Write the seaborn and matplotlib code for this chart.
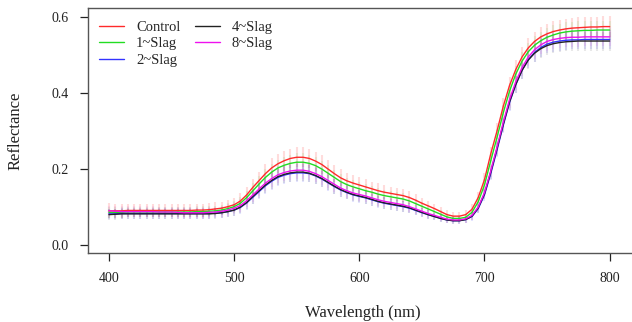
import matplotlib
matplotlib.use('Agg')
import matplotlib.pyplot as plt
import pandas as pd
import seaborn as sns

# wavelengths sampled every 5 nm
wavelength = list(range(400, 801, 5))

treatments = ['Control', '1~Slag', '2~Slag', '4~Slag', '8~Slag']

control = [0.090, 0.090, 0.090, 0.091, 0.091, 0.091, 0.091, 0.091, 0.091, 0.091,
           0.091, 0.091, 0.091, 0.091, 0.092, 0.092, 0.093, 0.095, 0.097, 0.101,
           0.106, 0.116, 0.132, 0.152, 0.170, 0.188, 0.203, 0.214, 0.222, 0.228,
           0.231, 0.231, 0.228, 0.221, 0.212, 0.200, 0.188, 0.177, 0.169, 0.163,
           0.158, 0.153, 0.148, 0.143, 0.139, 0.136, 0.133, 0.130, 0.125, 0.118,
           0.110, 0.103, 0.096, 0.088, 0.080, 0.076, 0.076, 0.080, 0.094, 0.125,
           0.172, 0.240, 0.300, 0.365, 0.420, 0.462, 0.495, 0.519, 0.536, 0.548,
           0.556, 0.562, 0.566, 0.569, 0.571, 0.572, 0.573, 0.574, 0.574, 0.575,
           0.575]

slag1 = [0.086, 0.086, 0.086, 0.087, 0.087, 0.087, 0.087, 0.087, 0.087, 0.087,
         0.087, 0.087, 0.087, 0.087, 0.088, 0.088, 0.089, 0.090, 0.092, 0.096,
         0.101, 0.110, 0.125, 0.143, 0.161, 0.178, 0.192, 0.203, 0.210, 0.215,
         0.218, 0.218, 0.215, 0.209, 0.200, 0.189, 0.178, 0.167, 0.159, 0.153,
         0.148, 0.143, 0.139, 0.134, 0.130, 0.127, 0.124, 0.121, 0.116, 0.109,
         0.102, 0.095, 0.088, 0.081, 0.074, 0.070, 0.070, 0.073, 0.086, 0.114,
         0.158, 0.222, 0.283, 0.348, 0.405, 0.450, 0.484, 0.509, 0.526, 0.538,
         0.547, 0.553, 0.558, 0.561, 0.563, 0.564, 0.565, 0.565, 0.566, 0.566,
         0.566]

slag2 = [0.082, 0.082, 0.083, 0.083, 0.083, 0.083, 0.083, 0.083, 0.083, 0.083,
         0.083, 0.083, 0.083, 0.083, 0.083, 0.083, 0.083, 0.084, 0.085, 0.088,
         0.092, 0.099, 0.111, 0.126, 0.141, 0.156, 0.168, 0.178, 0.184, 0.188,
         0.190, 0.190, 0.188, 0.182, 0.174, 0.164, 0.154, 0.145, 0.138, 0.132,
         0.128, 0.124, 0.119, 0.114, 0.110, 0.107, 0.104, 0.101, 0.097, 0.091,
         0.085, 0.080, 0.075, 0.070, 0.066, 0.064, 0.064, 0.067, 0.075, 0.096,
         0.132, 0.188, 0.250, 0.315, 0.375, 0.422, 0.460, 0.488, 0.507, 0.520,
         0.529, 0.534, 0.537, 0.539, 0.540, 0.540, 0.541, 0.541, 0.541, 0.541,
         0.541]

slag4 = [0.080, 0.081, 0.082, 0.082, 0.082, 0.082, 0.082, 0.082, 0.082, 0.082,
         0.082, 0.082, 0.082, 0.082, 0.082, 0.082, 0.082, 0.083, 0.085, 0.088,
         0.092, 0.100, 0.112, 0.128, 0.143, 0.158, 0.170, 0.180, 0.186, 0.190,
         0.192, 0.192, 0.189, 0.183, 0.175, 0.165, 0.155, 0.146, 0.139, 0.133,
         0.129, 0.125, 0.120, 0.115, 0.111, 0.108, 0.105, 0.102, 0.098, 0.092,
         0.086, 0.080, 0.075, 0.070, 0.066, 0.064, 0.064, 0.067, 0.076, 0.098,
         0.135, 0.192, 0.254, 0.318, 0.377, 0.423, 0.460, 0.487, 0.505, 0.517,
         0.525, 0.530, 0.533, 0.535, 0.536, 0.537, 0.537, 0.537, 0.537, 0.537,
         0.537]

slag8 = [0.090, 0.089, 0.088, 0.088, 0.088, 0.088, 0.088, 0.088, 0.087, 0.087,
         0.087, 0.086, 0.085, 0.085, 0.085, 0.085, 0.086, 0.087, 0.089, 0.092,
         0.097, 0.104, 0.117, 0.132, 0.148, 0.163, 0.175, 0.185, 0.191, 0.195,
         0.197, 0.197, 0.194, 0.188, 0.180, 0.170, 0.160, 0.150, 0.143, 0.137,
         0.133, 0.129, 0.124, 0.119, 0.115, 0.112, 0.109, 0.106, 0.101, 0.095,
         0.089, 0.083, 0.078, 0.073, 0.068, 0.066, 0.066, 0.069, 0.078, 0.100,
         0.138, 0.195, 0.258, 0.323, 0.383, 0.430, 0.467, 0.495, 0.514, 0.527,
         0.536, 0.541, 0.544, 0.546, 0.547, 0.547, 0.548, 0.548, 0.548, 0.548,
         0.548]

# standard deviations (error bars)
sd_control = [0.020, 0.019, 0.018, 0.017, 0.017, 0.017, 0.017, 0.017, 0.017, 0.017,
              0.017, 0.017, 0.017, 0.017, 0.017, 0.017, 0.017, 0.017, 0.017, 0.018,
              0.019, 0.020, 0.021, 0.022, 0.023, 0.024, 0.025, 0.025, 0.026, 0.026,
              0.026, 0.026, 0.026, 0.025, 0.025, 0.024, 0.023, 0.022, 0.021, 0.021,
              0.020, 0.020, 0.019, 0.019, 0.019, 0.018, 0.018, 0.018, 0.017, 0.016,
              0.015, 0.014, 0.013, 0.012, 0.011, 0.010, 0.010, 0.011, 0.013, 0.015,
              0.017, 0.019, 0.021, 0.022, 0.023, 0.024, 0.025, 0.025, 0.026, 0.026,
              0.026, 0.027, 0.027, 0.027, 0.027, 0.027, 0.027, 0.027, 0.027, 0.027,
              0.027]

sd_slag = [0.014, 0.014, 0.014, 0.014, 0.014, 0.014, 0.014, 0.014, 0.014, 0.014,
           0.014, 0.014, 0.014, 0.014, 0.014, 0.014, 0.014, 0.014, 0.014, 0.015,
           0.016, 0.017, 0.018, 0.019, 0.020, 0.021, 0.022, 0.022, 0.023, 0.023,
           0.023, 0.023, 0.023, 0.022, 0.022, 0.021, 0.020, 0.019, 0.018, 0.018,
           0.017, 0.017, 0.016, 0.016, 0.016, 0.015, 0.015, 0.015, 0.014, 0.013,
           0.012, 0.011, 0.010, 0.010, 0.009, 0.009, 0.009, 0.010, 0.011, 0.013,
           0.015, 0.017, 0.019, 0.020, 0.021, 0.022, 0.023, 0.023, 0.024, 0.024,
           0.024, 0.025, 0.025, 0.025, 0.025, 0.025, 0.025, 0.025, 0.025, 0.025,
           0.025]

line_colors = ['#ff2a2a', '#22dd22', '#3333ff', '#222222', '#ee11ee']
bar_alphas = [0.16, 0.10, 0.13, 0.10, 0.10]

means = [control, slag1, slag2, slag4, slag8]
sds = [sd_control, sd_slag, sd_slag, sd_slag, sd_slag]

frames = []
for name, m, s in zip(treatments, means, sds):
    frames.append(pd.DataFrame({'wavelength': wavelength, 'reflectance': m, 'sd': s, 'treatment': name}))
df = pd.concat(frames, ignore_index=True)

sns.set_theme(style='ticks')
plt.rcParams['font.family'] = ['Liberation Serif', 'DejaVu Serif']

fig = plt.figure(figsize=(6.32, 3.22), dpi=100)
ax = fig.add_axes([0.1392, 0.2143, 0.87, 0.7609])

# error bars first
for name, col, a in zip(treatments, line_colors, bar_alphas):
    sub = df[df['treatment'] == name]
    ax.vlines(sub['wavelength'], sub['reflectance'] - sub['sd'], sub['reflectance'] + sub['sd'],
              colors=col, alpha=a, linewidth=1.5)

sns.lineplot(data=df, x='wavelength', y='reflectance', hue='treatment', hue_order=treatments,
             palette=dict(zip(treatments, line_colors)), linewidth=1.0, ax=ax)

ax.set_xlim(383.2, 822.5)
ax.set_ylim(-0.021, 0.624)
ax.set_xticks([400, 500, 600, 700, 800])
ax.set_yticks([0.0, 0.2, 0.4, 0.6])
ax.set_yticklabels(['0.0', '0.2', '0.4', '0.6'])

for side in ['top', 'left', 'bottom']:
    ax.spines[side].set_color('#555555')
    ax.spines[side].set_linewidth(1.0)
ax.spines['right'].set_visible(False)

ax.tick_params(axis='both', direction='out', length=6, width=0.9, color='#222222',
               labelsize=10, pad=8, labelcolor='#222222')

ax.set_xlabel('Wavelength (nm)', fontsize=12, labelpad=14, color='#222222')
ax.set_ylabel('Reflectance', fontsize=12, labelpad=20, color='#222222')

handles, labels = ax.get_legend_handles_labels()
ax.legend(handles, labels, ncol=2, loc='upper left', bbox_to_anchor=(0.005, 0.985), frameon=False,
          fontsize=10.5, handlelength=1.7, handletextpad=0.8, columnspacing=1.0,
          labelspacing=0.25, borderpad=0.6, borderaxespad=0)

fig.savefig('out.png', dpi=100)
